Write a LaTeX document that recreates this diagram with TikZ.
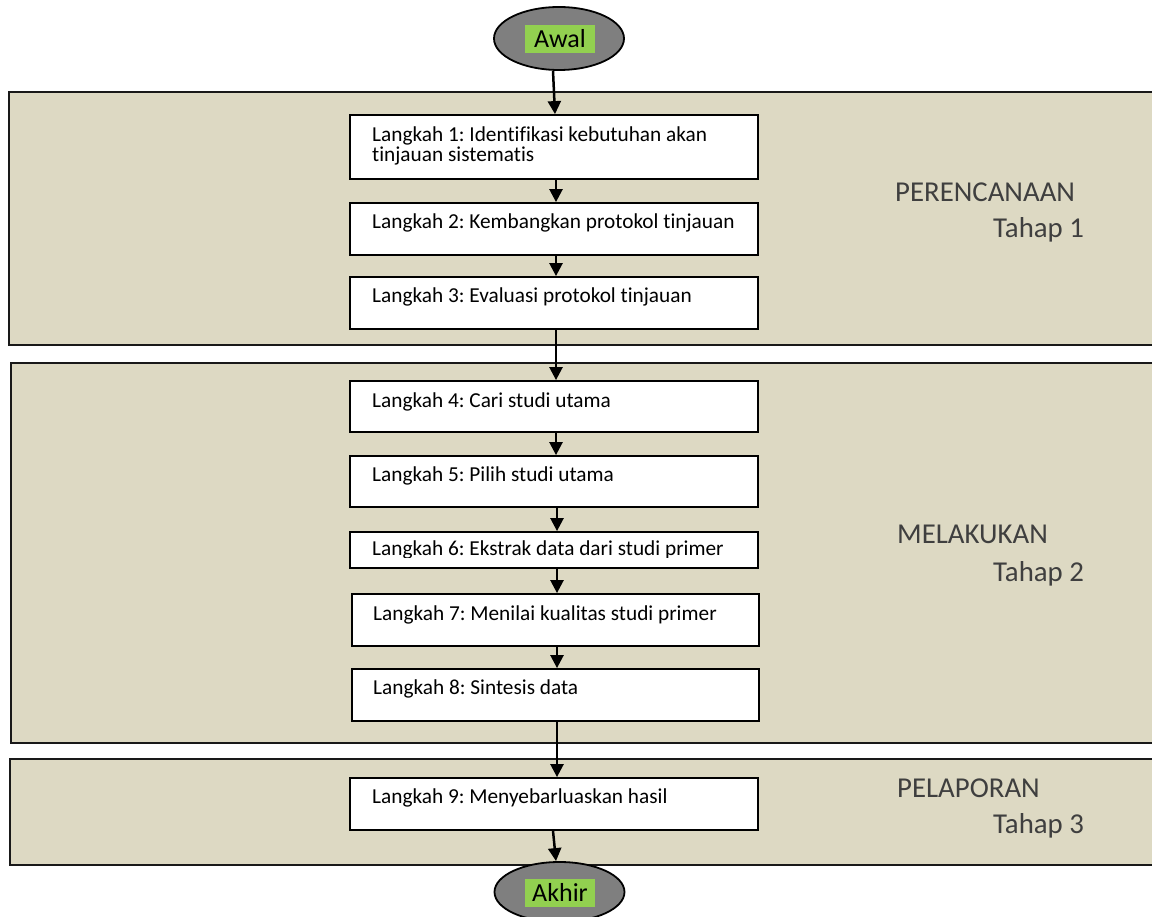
\documentclass[tikz,border=0pt]{standalone}
\usepackage{fontspec}
\setmainfont{Carlito}[Ligatures=NoCommon]
\usetikzlibrary{arrows.meta,shapes.geometric}
\definecolor{panelfill}{HTML}{DDD9C3}
\definecolor{lblgreen}{HTML}{92D050}
\definecolor{ovalgray}{HTML}{7F7F7F}
\definecolor{phasetext}{HTML}{3F3F3F}
\frenchspacing
\tikzset{
  panel/.style={draw=black!90, fill=panelfill, line width=1.8pt},
  stepbox/.style={draw=black, fill=white, line width=1.8pt, rectangle, minimum width=408pt, inner sep=0pt},
  steptext/.style={anchor=base west, inner sep=0pt, font=\fontsize{21.3}{17}\selectfont},
  phase/.style={anchor=base west, inner sep=0pt, text=phasetext, font=\fontsize{28.8}{30}\selectfont},
  oval/.style={ellipse, draw=black, fill=ovalgray, line width=1.8pt, minimum width=130pt, minimum height=63pt, inner sep=0pt},
  ovallabel/.style={fill=lblgreen, minimum width=70pt, minimum height=28pt, inner sep=0pt, font=\fontsize{26}{28}\selectfont},
  flow/.style={line width=2.5pt, -{Triangle[width=13pt,length=13pt]}}
}
\begin{document}
\begin{tikzpicture}[x=1pt,y=-1pt]
\clip (0,0) rectangle (1152,917);
\useasboundingbox (0,0) rectangle (1152,917);
% panels
\draw[panel] (9,92) rectangle (1170,345);
\draw[panel] (11,363) rectangle (1170,743);
\draw[panel] (10,759) rectangle (1170,865);
% phase labels
\node[phase] (p1a) at (895,202) {PERENCANAAN};
\node[phase] (p1b) at (993,238) {Tahap 1};
\node[phase] (p2a) at (897,543) {MELAKUKAN};
\node[phase] (p2b) at (993,581) {Tahap 2};
\node[phase] (p3a) at (897,797) {PELAPORAN};
\node[phase] (p3b) at (993,833) {Tahap 3};
% ovals
\node[oval] (awal) at (559,38.5) {};
\node[ovallabel] (awalt) at (560,39) {Awal};
\node[oval, minimum height=60pt] (akhir) at (559.5,892) {};
\node[ovallabel] (akhirt) at (560,892.5) {Akhir};
% step boxes
\node[stepbox, minimum height=64pt] (b1) at (554,147) {};
\node[stepbox, minimum height=52pt] (b2) at (554,229) {};
\node[stepbox, minimum height=52pt] (b3) at (554,303) {};
\node[stepbox, minimum height=51pt] (b4) at (554,406.5) {};
\node[stepbox, minimum height=51pt] (b5) at (554,481.5) {};
\node[stepbox, minimum height=36pt] (b6) at (554,550) {};
\node[stepbox, minimum width=407pt, minimum height=52pt] (b7) at (555.5,620) {};
\node[stepbox, minimum width=407pt, minimum height=52pt] (b8) at (555.5,695) {};
\node[stepbox, minimum height=52pt] (b9) at (554,804) {};
% step texts
\node[steptext] (t1) at (372,142) {\vtop{\baselineskip=17pt\hbox{Langkah 1: Identifikasi kebutuhan akan}\hbox{tinjauan sistematis}}};
\node[steptext] (t2) at (372,229) {Langkah 2: Kembangkan protokol tinjauan};
\node[steptext] (t3) at (372,303) {Langkah 3: Evaluasi protokol tinjauan};
\node[steptext] (t4) at (372,407) {Langkah 4: Cari studi utama};
\node[steptext] (t5) at (372,481) {Langkah 5: Pilih studi utama};
\begin{scope}
\clip (350,530) rectangle (758,557.5);
\node[steptext] (t6) at (372,555) {Langkah 6: Ekstrak data dari studi primer};
\end{scope}
\node[steptext] (t7) at (373,620) {Langkah 7: Menilai kualitas studi primer};
\node[steptext] (t8) at (373,694) {Langkah 8: Sintesis data};
\node[steptext] (t9) at (372,803) {Langkah 9: Menyebarluaskan hasil};
% connectors
\draw[flow] ([xshift=-6pt]awal.south) -- ([xshift=1pt]b1.north);
\draw[flow] ([xshift=2pt]b1.south) -- ([xshift=2pt]b2.north);
\draw[flow] ([xshift=2pt]b2.south) -- ([xshift=2pt]b3.north);
\draw[flow] ([xshift=2pt]b3.south) -- ([xshift=2pt]b4.north);
\draw[flow] ([xshift=2pt]b4.south) -- ([xshift=2pt]b5.north);
\draw[flow] ([xshift=3pt]b5.south) -- ([xshift=3pt]b6.north);
\draw[flow] ([xshift=3pt]b6.south) -- ([xshift=1.5pt]b7.north);
\draw[flow] ([xshift=1.5pt]b7.south) -- ([xshift=1.5pt]b8.north);
\draw[flow] ([xshift=1.5pt]b8.south) -- ([xshift=3pt]b9.north);
\draw[flow] ([xshift=-1pt]b9.south) -- ([xshift=-3.5pt]akhir.north);
\end{tikzpicture}
\end{document}
